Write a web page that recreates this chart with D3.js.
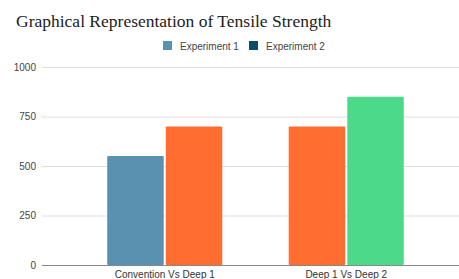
<!DOCTYPE html>
<html>
<head>
<meta charset="utf-8">
<script src="https://cdn.jsdelivr.net/npm/d3@7"></script>
<style>
  body { margin: 0; background: #fff; }
</style>
</head>
<body>
<div id="chart"></div>
<script>
// categorias e valores
var grupos = ["Convention Vs Deep 1", "Deep 1 Vs Deep 2"];
var series = ["Experiment 1", "Experiment 2"];
var valores = [[550, 700], [700, 850]];
var coresBarras = [["#5a91b0", "#ff6d31"], ["#ff6d31", "#4cda8a"]];
var coresLegenda = ["#5a91b0", "#0f4b6a"];
var ticksY = [0, 250, 500, 750, 1000];

var W = 459, H = 279;

var svg = d3.select("#chart").append("svg")
    .attr("width", W)
    .attr("height", H);

var y = d3.scaleLinear().domain([0, 1000]).range([265, 67]);

var x0 = d3.scaleBand().domain(grupos).range([74, 437])
    .paddingInner(0.366).paddingOuter(0.183);

var x1 = d3.scaleBand().domain(d3.range(series.length))
    .range([0, x0.bandwidth()]).paddingInner(0.035);

// titulo
svg.append("text")
    .attr("x", 16)
    .attr("y", 27)
    .style("font-family", "'Liberation Serif', serif")
    .style("font-size", "17.5px")
    .style("fill", "#222")
    .text("Graphical Representation of Tensile Strength");

// legenda
var leg = svg.append("g").attr("transform", "translate(163,41)");
var legX = [0, 86];
series.forEach(function (s, i) {
    leg.append("rect")
        .attr("x", legX[i]).attr("y", 0)
        .attr("width", 9).attr("height", 9)
        .attr("fill", coresLegenda[i]);
    leg.append("text")
        .attr("x", legX[i] + 17).attr("y", 8.5)
        .style("font-family", "Arial, 'Liberation Sans', sans-serif")
        .style("font-size", "10px")
        .style("fill", "#444")
        .text(s);
});

// grelha
var grade = svg.append("g");
grade.selectAll("line")
    .data(ticksY.slice(1))
    .enter()
    .append("line")
    .attr("x1", 42).attr("x2", W)
    .attr("y1", function (d) { return y(d) + 0.5; })
    .attr("y2", function (d) { return y(d) + 0.5; })
    .attr("stroke", "#dedede")
    .attr("stroke-width", 1);

// eixo y
var eixoY = svg.append("g")
    .attr("transform", "translate(42,0)")
    .call(d3.axisLeft(y).tickValues(ticksY).tickFormat(d3.format("d")).tickSize(0).tickPadding(6));
eixoY.select(".domain").remove();
eixoY.selectAll("text")
    .style("font-family", "Arial, 'Liberation Sans', sans-serif")
    .style("font-size", "10px")
    .style("fill", "#444");

// barras
var g = svg.selectAll(".grupo")
    .data(grupos)
    .enter()
    .append("g")
    .attr("transform", function (d) { return "translate(" + x0(d) + ",0)"; });

g.selectAll("rect")
    .data(function (d, gi) {
        return valores[gi].map(function (v, si) { return { v: v, si: si, gi: gi }; });
    })
    .enter()
    .append("rect")
    .attr("x", function (d) { return x1(d.si); })
    .attr("y", function (d) { return y(d.v); })
    .attr("width", x1.bandwidth())
    .attr("height", function (d) { return y(0) - y(d.v); })
    .attr("rx", 1)
    .attr("fill", function (d) { return coresBarras[d.gi][d.si]; });

// linha base
svg.append("line")
    .attr("x1", 42).attr("x2", W)
    .attr("y1", y(0) + 0.5).attr("y2", y(0) + 0.5)
    .attr("stroke", "#888")
    .attr("stroke-width", 1.2);

// eixo x
var eixoX = svg.append("g")
    .attr("transform", "translate(0," + y(0) + ")")
    .call(d3.axisBottom(x0).tickSize(0).tickPadding(6));
eixoX.select(".domain").remove();
eixoX.selectAll("text")
    .style("font-family", "Arial, 'Liberation Sans', sans-serif")
    .style("font-size", "10px")
    .style("fill", "#333");
</script>
</body>
</html>
